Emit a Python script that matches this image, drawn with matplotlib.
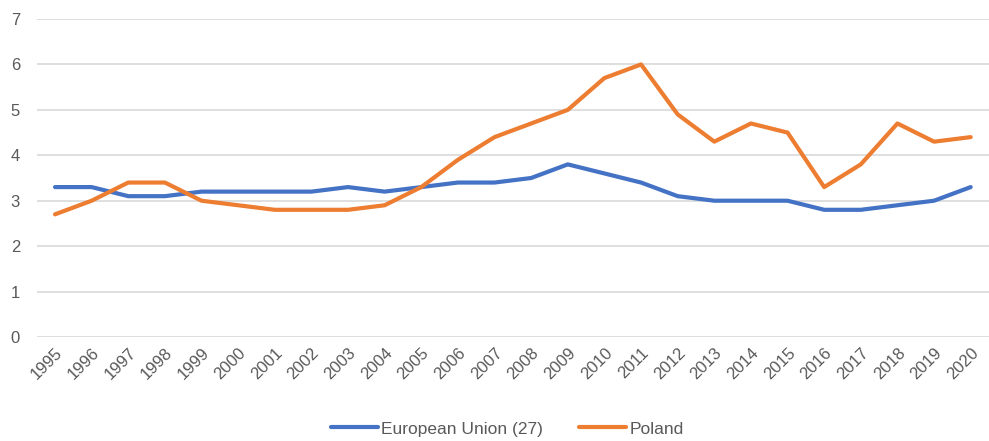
import matplotlib
matplotlib.use("Agg")
import matplotlib.pyplot as plt

years = [str(y) for y in range(1995, 2021)]
eu = [3.3, 3.3, 3.1, 3.1, 3.2, 3.2, 3.2, 3.2, 3.3, 3.2, 3.3, 3.4, 3.4, 3.5, 3.8,
      3.6, 3.4, 3.1, 3.0, 3.0, 3.0, 2.8, 2.8, 2.9, 3.0, 3.3]
poland = [2.7, 3.0, 3.4, 3.4, 3.0, 2.9, 2.8, 2.8, 2.8, 2.9, 3.3, 3.9, 4.4, 4.7, 5.0,
          5.7, 6.0, 4.9, 4.3, 4.7, 4.5, 3.3, 3.8, 4.7, 4.3, 4.4]
yticks = [0, 1, 2, 3, 4, 5, 6, 7]

plt.rcParams['font.family'] = ['Liberation Sans', 'DejaVu Sans']
fig = plt.figure(figsize=(9.89, 4.41), dpi=100)
ax = fig.add_axes([36.7 / 989, 1 - 337 / 441, (989 - 36.7) / 989, (337 - 19) / 441])

x = list(range(len(years)))
ax.plot(x, eu, color='#4472C4', lw=3, solid_capstyle='round', solid_joinstyle='round',
        label='European Union (27)', zorder=3)
ax.plot(x, poland, color='#ED7D31', lw=3, solid_capstyle='round', solid_joinstyle='round',
        label='Poland', zorder=3)

ax.set_xlim(-0.5, len(years) - 0.5)
ax.set_ylim(0, 7)
ax.set_yticks(yticks)
ax.set_yticklabels([str(v) for v in yticks])
ax.set_xticks(x)
ax.set_xticklabels(years, rotation=45, ha='right', va='top', rotation_mode='anchor')
ax.grid(axis='y', color='#D9D9D9', lw=1.2)
ax.set_axisbelow(True)
for s in ax.spines.values():
    s.set_visible(False)
ax.tick_params(axis='both', length=0, colors='#595959', labelsize=12)
ax.tick_params(axis='y', pad=12)
ax.tick_params(axis='x', pad=6)

leg = fig.legend(loc='center', bbox_to_anchor=(0.513, 1 - 429 / 441), ncol=2, frameon=False,
                 fontsize=12.5, handlelength=2.7, columnspacing=2.1, handletextpad=0.2)
for t in leg.get_texts():
    t.set_color('#595959')

fig.savefig('out.png', dpi=100)
